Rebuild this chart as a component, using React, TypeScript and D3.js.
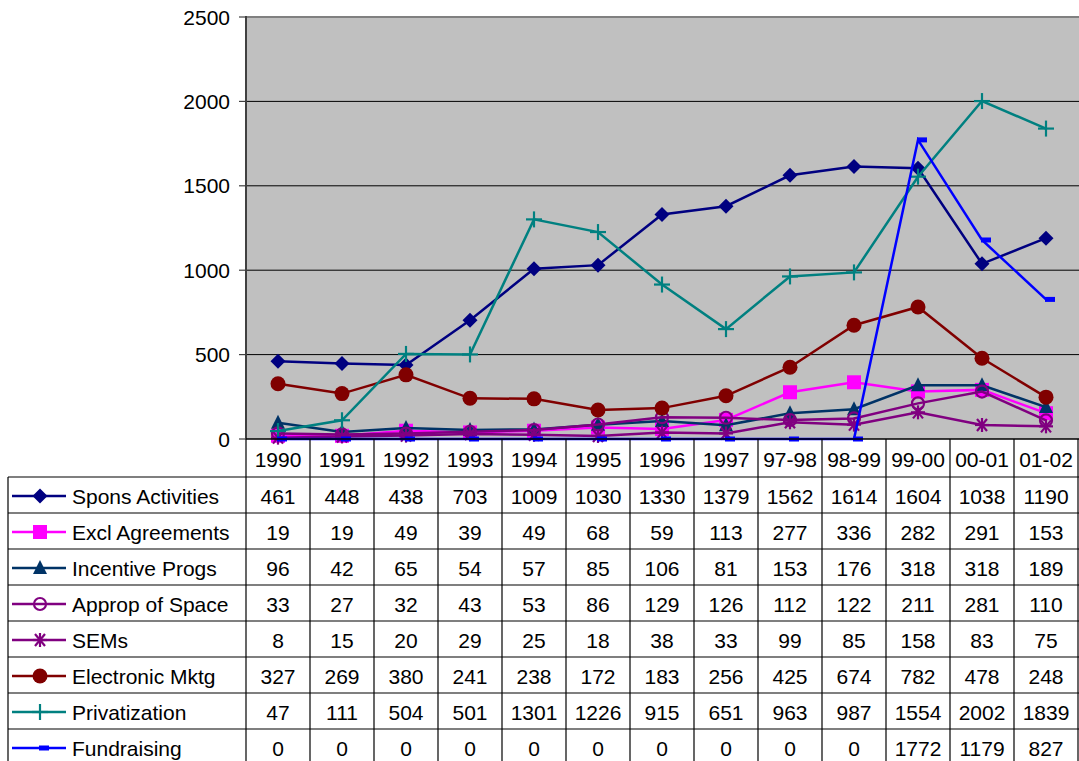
import React from "react";
import * as d3 from "d3";

const categories = ["1990","1991","1992","1993","1994","1995","1996","1997","97-98","98-99","99-00","00-01","01-02"];
const sponsActivities = [461,448,438,703,1009,1030,1330,1379,1562,1614,1604,1038,1190];
const exclAgreements = [19,19,49,39,49,68,59,113,277,336,282,291,153];
const incentiveProgs = [96,42,65,54,57,85,106,81,153,176,318,318,189];
const appropOfSpace = [33,27,32,43,53,86,129,126,112,122,211,281,110];
const sems = [8,15,20,29,25,18,38,33,99,85,158,83,75];
const electronicMktg = [327,269,380,241,238,172,183,256,425,674,782,478,248];
const privatization = [47,111,504,501,1301,1226,915,651,963,987,1554,2002,1839];
const fundraising = [0,0,0,0,0,0,0,0,0,0,1772,1179,827];
const yTicks = [0,500,1000,1500,2000,2500];

const series = [
  { name: "Spons Activities", values: sponsActivities, color: "#000080", marker: "diamond" },
  { name: "Excl Agreements", values: exclAgreements, color: "#FF00FF", marker: "square" },
  { name: "Incentive Progs", values: incentiveProgs, color: "#003366", marker: "triangle" },
  { name: "Approp of Space", values: appropOfSpace, color: "#800080", marker: "circleOpen" },
  { name: "SEMs", values: sems, color: "#800080", marker: "star" },
  { name: "Electronic Mktg", values: electronicMktg, color: "#800000", marker: "circle" },
  { name: "Privatization", values: privatization, color: "#008080", marker: "plus" },
  { name: "Fundraising", values: fundraising, color: "#0000FF", marker: "dash" },
];

const W = 1079, H = 761;
const plotL = 246, plotR = 1078, plotT = 17, plotB = 439;
const rowTop = 477, rowH = 36;
const tableL = 8;
const FONT = "'Liberation Sans', Arial, sans-serif";
const FS = 21;

function Marker({ type, x, y, color }: { type: string; x: number; y: number; color: string }) {
  switch (type) {
    case "diamond":
      return <path d={`M${x},${y - 7.5}L${x + 7.5},${y}L${x},${y + 7.5}L${x - 7.5},${y}Z`} fill={color} />;
    case "square":
      return <rect x={x - 7} y={y - 7} width={14} height={14} fill={color} />;
    case "triangle":
      return <path d={`M${x},${y - 8}L${x + 7},${y + 6}L${x - 7},${y + 6}Z`} fill={color} />;
    case "circleOpen":
      return <circle cx={x} cy={y} r={6} fill="none" stroke={color} strokeWidth={2.2} />;
    case "circle":
      return <circle cx={x} cy={y} r={7.5} fill={color} />;
    case "star":
      return (
        <g stroke={color} strokeWidth={2.2}>
          <line x1={x - 7} y1={y} x2={x + 7} y2={y} />
          <line x1={x - 5} y1={y - 6} x2={x + 5} y2={y + 6} />
          <line x1={x - 5} y1={y + 6} x2={x + 5} y2={y - 6} />
          <line x1={x} y1={y - 7} x2={x} y2={y + 7} />
        </g>
      );
    case "plus":
      return (
        <g stroke={color} strokeWidth={2.2}>
          <line x1={x - 8} y1={y} x2={x + 8} y2={y} />
          <line x1={x} y1={y - 8} x2={x} y2={y + 8} />
        </g>
      );
    case "dash":
      return <rect x={x - 1} y={y - 2.5} width={10} height={5} fill={color} />;
    default:
      return null;
  }
}

export default function App() {
  const x = d3.scaleBand<string>().domain(categories).range([plotL, plotR]).padding(0);
  const y = d3.scaleLinear().domain([0, 2500]).range([plotB, plotT]);
  const cx = (c: string) => (x(c) as number) + x.bandwidth() / 2;

  const line = d3.line<[number, number]>().x(d => d[0]).y(d => d[1]);

  return (
    <svg width={W} height={H} style={{ position: "absolute", left: 0, top: 0, background: "#fff" }} fontFamily={FONT}>
      <rect x={plotL} y={plotT} width={plotR - plotL + 2} height={plotB - plotT} fill="#C0C0C0" />
      {yTicks.filter(t => t > 0 && t < 2500).map(t => (
        <line key={t} x1={plotL} x2={W} y1={y(t)} y2={y(t)} stroke="#000" strokeWidth={1} />
      ))}
      <line x1={plotL} x2={W} y1={plotT} y2={plotT} stroke="#808080" strokeWidth={2} />
      {/* y axis */}
      <line x1={plotL} x2={plotL} y1={plotT - 1} y2={plotB} stroke="#404040" strokeWidth={2} />
      {yTicks.map(t => (
        <g key={t}>
          <line x1={plotL - 7} x2={plotL} y1={y(t)} y2={y(t)} stroke="#404040" strokeWidth={1.2} />
          <text x={230} y={y(t)} dy="0.36em" textAnchor="end" fontSize={FS} fill="#000">{t}</text>
        </g>
      ))}
      {/* series */}
      {series.map(s => {
        const pts: [number, number][] = s.values.map((v, i) => [cx(categories[i]), y(v)]);
        return (
          <g key={s.name}>
            <path d={line(pts) as string} fill="none" stroke={s.color} strokeWidth={2.5} />
            {pts.map((p, i) => <Marker key={i} type={s.marker} x={p[0]} y={p[1]} color={s.color} />)}
          </g>
        );
      })}
      {/* x axis line */}
      <line x1={plotL} x2={W} y1={plotB} y2={plotB} stroke="#000" strokeWidth={1.5} />
      {/* table */}
      {categories.map(c => (
        <text key={c} x={cx(c)} y={(plotB + rowTop) / 2 + 1} dy="0.36em" textAnchor="middle" fontSize={FS} fill="#000">{c}</text>
      ))}
      {d3.range(categories.length + 1).map(k => {
        const xx = k === categories.length ? plotR : (x(categories[k]) as number);
        return <line key={k} x1={xx} x2={xx} y1={plotB} y2={H} stroke="#000" strokeWidth={1.2} />;
      })}
      <line x1={tableL} x2={tableL} y1={rowTop} y2={H} stroke="#000" strokeWidth={1.2} />
      {d3.range(series.length).map(r => (
        <line key={r} x1={tableL} x2={W} y1={rowTop + r * rowH} y2={rowTop + r * rowH} stroke="#000" strokeWidth={1.2} />
      ))}
      {series.map((s, r) => {
        const yc = rowTop + r * rowH + rowH / 2 + 1;
        return (
          <g key={s.name}>
            <line x1={12} x2={66} y1={yc} y2={yc} stroke={s.color} strokeWidth={2.5} />
            <Marker type={s.marker} x={40} y={yc} color={s.color} />
            <text x={72} y={yc} dy="0.36em" fontSize={FS} fill="#000">{s.name}</text>
            {s.values.map((v, i) => (
              <text key={i} x={cx(categories[i])} y={yc} dy="0.36em" textAnchor="middle" fontSize={FS} fill="#000">{v}</text>
            ))}
          </g>
        );
      })}
    </svg>
  );
}
